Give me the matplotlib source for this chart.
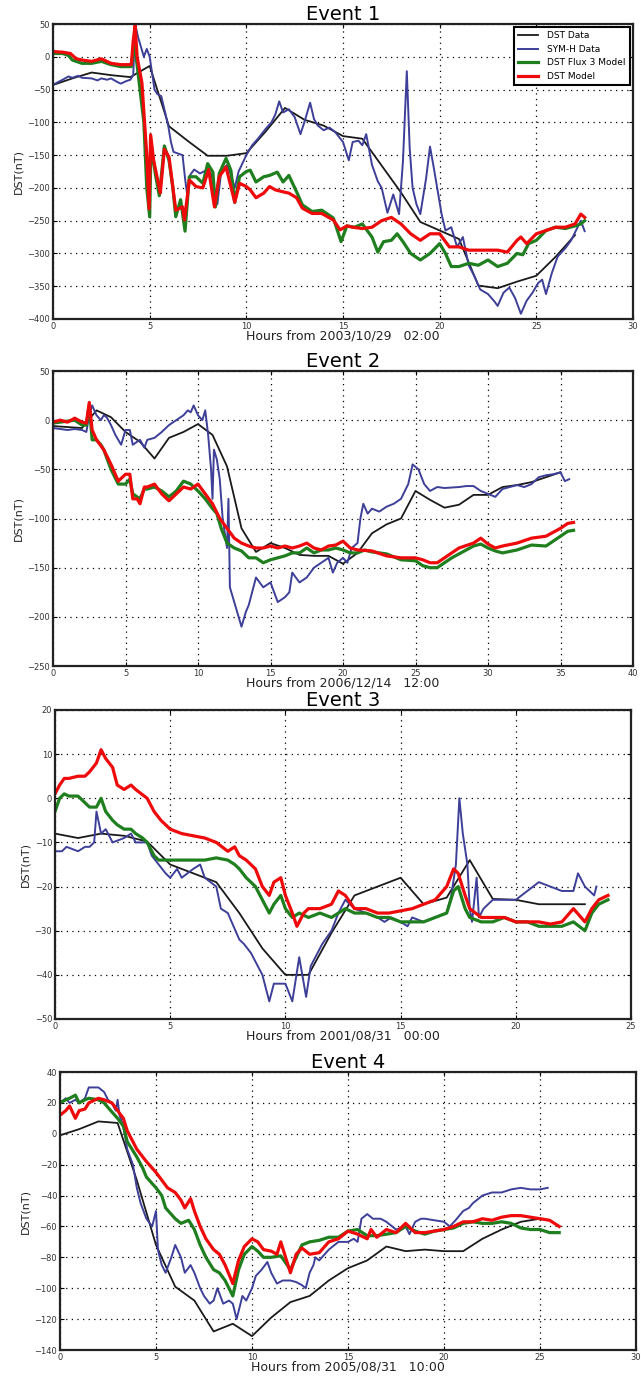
import numpy as np
import matplotlib
matplotlib.use("Agg")
import matplotlib.pyplot as plt

# ---------------- Event 1 : 2003/10/29 02:00 ----------------
e1_dst = [(0, -43), (1, -33), (2, -24), (3, -28), (4, -31), (5, -14), (6, -106), (7, -129),
          (8, -151), (9, -151), (10, -147), (11, -114), (12, -78), (13, -96), (14, -105),
          (15, -121), (16, -125), (17, -166), (18, -207), (19, -252), (20, -265), (21, -278),
          (22, -349), (23, -353), (24, -343), (25, -334), (26, -305), (27, -272)]
e1_symh = [(0, -43), (0.3, -38), (0.5, -35), (0.8, -30), (1, -32), (1.3, -29), (1.5, -32),
           (2, -33), (2.3, -36), (2.5, -33), (2.8, -35), (3, -33), (3.3, -38), (3.5, -41),
           (3.8, -37), (4, -35), (4.15, -28), (4.25, 50), (4.4, 30), (4.5, 20), (4.7, 0),
           (4.85, 12), (5.0, 0), (5.1, -20), (5.25, -50), (5.4, -57), (5.6, -60), (5.8, -85),
           (5.97, -107), (6.1, -130), (6.23, -145), (6.5, -148), (6.7, -150), (6.84, -188),
           (6.93, -208), (7.1, -180), (7.3, -172), (7.6, -178), (8.0, -172), (8.2, -180),
           (8.5, -225), (8.7, -175), (9.0, -165), (9.2, -180), (9.4, -200), (9.6, -175),
           (10.0, -150), (10.3, -135), (10.6, -125), (11.0, -110), (11.3, -100), (11.5, -88),
           (11.7, -68), (11.9, -85), (12.2, -80), (12.5, -92), (12.8, -118), (13.0, -100),
           (13.3, -70), (13.5, -95), (13.7, -105), (14.0, -112), (14.3, -108), (14.6, -115),
           (15.0, -130), (15.3, -158), (15.5, -130), (15.8, -128), (16.0, -135), (16.2, -118),
           (16.5, -165), (16.8, -190), (17.0, -200), (17.3, -238), (17.6, -210), (17.9, -240),
           (18.1, -160), (18.3, -22), (18.45, -140), (18.6, -200), (18.8, -225), (19.0, -240),
           (19.3, -185), (19.5, -137), (19.7, -170), (19.9, -205), (20.1, -240), (20.3, -265),
           (20.6, -260), (20.9, -290), (21.2, -275), (21.5, -318), (21.8, -335), (22.1, -355),
           (22.5, -362), (22.8, -372), (23.0, -380), (23.3, -360), (23.6, -352), (23.9, -368),
           (24.2, -392), (24.5, -372), (24.8, -360), (25.1, -345), (25.3, -340), (25.5, -362),
           (25.8, -330), (26.1, -305), (26.5, -292), (26.8, -280), (27.1, -262), (27.3, -250),
           (27.5, -266)]
e1_flux3 = [(0, 5), (0.5, 5), (0.8, 2), (1.0, -5), (1.5, -10), (2.0, -10), (2.5, -7), (3.0, -12),
            (3.5, -15), (4.05, -15), (4.15, 10), (4.22, 27), (4.3, 0), (4.5, -50), (4.7, -100),
            (4.85, -200), (5.0, -244), (5.07, -133), (5.3, -180), (5.5, -212), (5.76, -136),
            (6.0, -158), (6.2, -200), (6.35, -244), (6.6, -218), (6.83, -266), (7.05, -183),
            (7.4, -183), (7.75, -193), (8.0, -163), (8.27, -176), (8.4, -229), (8.6, -178),
            (8.95, -155), (9.2, -173), (9.4, -222), (9.65, -183), (10.0, -175), (10.2, -173),
            (10.5, -191), (10.9, -183), (11.2, -181), (11.6, -176), (11.9, -191), (12.2, -181),
            (12.6, -206), (12.9, -226), (13.4, -236), (13.9, -234), (14.5, -246), (14.9, -282),
            (15.2, -258), (15.6, -260), (16.0, -255), (16.5, -275), (16.8, -298), (17.1, -282),
            (17.5, -280), (17.8, -270), (18.1, -282), (18.5, -300), (19.0, -310), (19.5, -300),
            (20.0, -285), (20.3, -300), (20.6, -320), (21.0, -320), (21.5, -315), (22.0, -318),
            (22.5, -310), (23.0, -320), (23.5, -315), (24.0, -300), (24.3, -302), (24.6, -285),
            (25.0, -280), (25.5, -265), (26.0, -260), (26.5, -262), (27.0, -258), (27.3, -255),
            (27.5, -250)]
e1_model = [(0, 8), (0.5, 7), (0.9, 5), (1.2, -3), (1.5, -5), (2.0, -7), (2.5, -3), (3.0, -10),
            (3.5, -12), (4.05, -12), (4.15, 25), (4.25, 48), (4.35, 0), (4.6, -40), (4.85, -150),
            (4.97, -232), (5.05, -119), (5.2, -157), (5.55, -208), (5.76, -141), (6.0, -153),
            (6.35, -234), (6.7, -229), (6.8, -249), (7.05, -188), (7.4, -198), (7.75, -200),
            (8.05, -172), (8.35, -229), (8.6, -183), (8.95, -168), (9.4, -222), (9.65, -193),
            (10.0, -198), (10.2, -203), (10.5, -215), (10.9, -208), (11.2, -198), (11.5, -203),
            (11.9, -206), (12.2, -208), (12.6, -215), (12.9, -231), (13.4, -239), (13.9, -239),
            (14.5, -249), (14.85, -264), (15.2, -258), (15.5, -260), (16.0, -262), (16.5, -260),
            (17.0, -250), (17.5, -245), (18.0, -255), (18.5, -270), (19.0, -280), (19.5, -270),
            (20.0, -270), (20.5, -290), (21.0, -290), (21.5, -295), (22.0, -295), (22.5, -295),
            (23.0, -295), (23.5, -298), (24.0, -280), (24.2, -275), (24.5, -285), (25.0, -270),
            (25.5, -265), (26.0, -260), (26.5, -260), (27.0, -255), (27.3, -240), (27.5, -245)]

# ---------------- Event 2 : 2006/12/14 12:00 ----------------
e2_dst = [(0, -6), (1, -7), (2, -8), (3, 10), (4, 3), (5, -12), (6, -22), (7, -39), (8, -18),
          (9, -12), (10, -4), (11, -15), (12, -47), (13, -110), (14, -134), (15, -125), (16, -130),
          (17, -137), (18, -138), (19, -138), (20, -146), (21, -135), (22, -115), (23, -106),
          (24, -100), (25, -72), (26, -81), (27, -89), (28, -86), (29, -76), (30, -76), (31, -68),
          (32, -66), (33, -63), (34, -58), (35, -53)]
e2_symh = [(0, -8), (0.5, -9), (1, -10), (1.5, -9), (2, -10), (2.3, -12), (2.5, 5), (2.7, 15),
           (3.0, 5), (3.3, 0), (3.5, 5), (3.7, 3), (4.0, -5), (4.3, -15), (4.5, -20), (4.7, -25),
           (5.0, -10), (5.3, -10), (5.5, -25), (6.0, -20), (6.3, -28), (6.5, -20), (7.0, -18),
           (7.5, -12), (8.0, -5), (8.5, 0), (9.0, 5), (9.3, 10), (9.5, 8), (9.7, 15), (10.0, 5),
           (10.3, 0), (10.5, 10), (10.7, -15), (10.9, -50), (11.0, -80), (11.1, -30),
           (11.3, -40), (11.5, -60), (11.7, -100), (12.0, -130), (12.1, -80), (12.2, -170),
           (12.5, -185), (12.8, -200), (13.0, -210), (13.3, -195), (13.5, -188), (14.0, -160),
           (14.5, -170), (15.0, -165), (15.5, -185), (16.0, -180), (16.3, -175), (16.5, -155),
           (17.0, -165), (17.5, -160), (18.0, -150), (18.5, -145), (19.0, -140), (19.3, -155),
           (19.6, -145), (20.0, -140), (20.3, -145), (20.6, -130), (21.0, -125), (21.2, -100),
           (21.4, -85), (21.7, -95), (22.0, -90), (22.5, -93), (23.0, -88), (23.5, -85),
           (24.0, -80), (24.5, -65), (24.8, -45), (25.2, -50), (25.6, -65), (26.0, -72),
           (26.5, -68), (27.0, -69), (28.0, -68), (28.5, -67), (29.0, -67), (29.5, -72),
           (30.0, -75), (30.5, -78), (31.0, -70), (31.5, -68), (32.0, -66), (32.5, -68),
           (33.0, -65), (33.5, -58), (34.0, -56), (34.5, -55), (35.0, -53), (35.3, -62),
           (35.6, -60)]
e2_flux3 = [(0, -3), (0.5, -2), (1, -1), (1.5, 0), (2, -5), (2.3, -5), (2.5, 15), (2.7, -20),
            (3.0, -20), (3.3, -25), (3.5, -30), (4.0, -50), (4.5, -65), (5.0, -65), (5.3, -60),
            (5.5, -75), (6.0, -80), (6.3, -70), (6.5, -70), (7.0, -68), (7.5, -72), (8.0, -78),
            (8.5, -72), (9.0, -62), (9.5, -65), (10.0, -72), (10.5, -80), (11.0, -90),
            (11.3, -95), (11.6, -110), (12.0, -125), (12.5, -130), (13.0, -133), (13.5, -140),
            (14.0, -140), (14.5, -145), (15.0, -142), (15.5, -140), (16.0, -138), (16.5, -135),
            (17.0, -135), (17.5, -130), (18.0, -135), (18.5, -132), (19.0, -132), (19.5, -130),
            (20.0, -132), (20.5, -135), (21.0, -135), (21.5, -132), (22.0, -134), (23.0, -136),
            (24.0, -142), (25.0, -143), (25.5, -148), (26.0, -150), (26.5, -150), (27.0, -145),
            (27.5, -140), (28.0, -136), (29.0, -128), (29.5, -126), (30.0, -130), (30.5, -133),
            (31.0, -135), (32.0, -132), (33.0, -127), (34.0, -128), (34.5, -123), (35.0, -118),
            (35.5, -113), (35.9, -112)]
e2_model = [(0, -2), (0.5, 0), (1, -2), (1.5, 2), (2, -2), (2.3, -3), (2.5, 18), (2.7, -10),
            (3.0, -20), (3.5, -30), (4.0, -45), (4.5, -62), (5.0, -55), (5.3, -55), (5.5, -80),
            (5.8, -80), (6.0, -85), (6.3, -68), (6.5, -68), (7.0, -65), (7.5, -75), (8.0, -82),
            (8.5, -75), (9.0, -68), (9.5, -70), (10.0, -65), (10.5, -75), (11.0, -85),
            (11.5, -100), (12.0, -110), (12.5, -120), (13.0, -125), (13.5, -128), (14.0, -130),
            (14.5, -130), (15.0, -128), (15.5, -130), (16.0, -128), (16.5, -130), (17.0, -128),
            (17.5, -125), (18.0, -130), (18.5, -132), (19.0, -128), (19.5, -127), (20.0, -123),
            (20.5, -130), (21.0, -132), (22.0, -133), (23.0, -138), (24.0, -140), (25.0, -140),
            (25.5, -142), (26.0, -145), (26.5, -145), (27.0, -140), (28.0, -130), (29.0, -125),
            (29.5, -120), (30.0, -126), (30.5, -130), (31.0, -128), (32.0, -125), (33.0, -120),
            (34.0, -118), (35.0, -110), (35.5, -105), (35.9, -104)]

# ---------------- Event 3 : 2001/08/31 00:00 ----------------
e3_dst = [(0, -8), (1, -9), (2, -8), (3, -8.5), (4, -9.8), (5, -15), (6, -17), (7, -19), (8, -26),
          (9, -34), (10, -40), (11, -40), (12, -30.5), (13, -22), (14, -20), (15, -18), (16, -24),
          (17, -22.5), (18, -14), (19, -22.8), (20, -23), (21, -24), (22, -24), (23, -24)]
e3_symh = [(0, -12), (0.3, -12), (0.5, -11), (1, -12), (1.3, -11), (1.5, -11), (1.7, -10),
           (1.8, -3), (2.0, -8), (2.2, -7), (2.5, -10), (3.0, -9), (3.3, -8), (3.5, -10),
           (4.0, -10), (4.2, -13), (4.5, -15), (4.8, -17), (5.0, -18), (5.3, -16), (5.5, -18),
           (6.0, -16), (6.3, -15), (6.5, -18), (7.0, -20), (7.2, -25), (7.5, -26), (8.0, -32),
           (8.2, -33), (8.5, -35), (9.0, -40), (9.3, -46), (9.5, -42), (10.0, -42), (10.3, -46),
           (10.6, -36), (10.9, -45), (11.1, -38), (11.3, -36), (11.6, -33), (12.0, -30),
           (12.3, -26), (12.6, -23), (13.0, -25), (13.5, -26), (14.0, -27), (14.3, -28),
           (14.6, -27), (15.0, -28), (15.3, -29), (15.5, -27), (16.0, -28), (16.5, -27),
           (17.0, -26), (17.2, -22), (17.4, -15), (17.55, 0), (17.7, -8), (17.9, -15),
           (18.0, -25), (18.1, -28), (18.3, -18), (18.4, -27), (18.6, -25), (19.0, -23),
           (19.5, -23), (20.0, -23), (20.5, -21), (21.0, -19), (21.5, -20), (22.0, -21),
           (22.5, -21), (22.7, -17), (23.0, -20), (23.4, -22), (23.5, -20)]
e3_flux3 = [(0, -3), (0.2, 0), (0.4, 1), (0.6, 0.5), (1.0, 0.5), (1.3, -1), (1.5, -2), (1.8, -2),
            (2.0, 0), (2.2, -3), (2.5, -5), (2.7, -6), (3.0, -7), (3.3, -7), (3.5, -8), (3.8, -9),
            (4.0, -10), (4.3, -13), (4.5, -14), (5.0, -14), (5.5, -14), (6.0, -14), (6.5, -14),
            (7.0, -13.5), (7.5, -14), (7.8, -15), (8.0, -16), (8.3, -18), (8.7, -20), (9.0, -23),
            (9.3, -26), (9.5, -24), (9.8, -22), (10.0, -25), (10.3, -27), (10.6, -26),
            (11.0, -27), (11.5, -26), (12.0, -27), (12.3, -26), (12.6, -25), (13.0, -26),
            (13.5, -26), (14.0, -27), (14.5, -27), (15.0, -28), (15.5, -28), (16.0, -28),
            (16.5, -27), (17.0, -26), (17.3, -21), (17.5, -20), (17.8, -25), (18.0, -27),
            (18.5, -28), (19.0, -28), (19.5, -27), (20.0, -28), (20.5, -28), (21.0, -29),
            (21.5, -29), (22.0, -29), (22.5, -28), (23.0, -30), (23.3, -26), (23.6, -24),
            (24.0, -23)]
e3_model = [(0, 1), (0.2, 3), (0.4, 4.5), (0.6, 4.5), (1.0, 5), (1.3, 5), (1.5, 6), (1.8, 8),
            (2.0, 11), (2.2, 9), (2.5, 7), (2.7, 3), (3.0, 2), (3.3, 3), (3.5, 2), (4.0, 0),
            (4.3, -3), (4.6, -5), (5.0, -7), (5.5, -8), (6.0, -8.5), (6.5, -9), (7.0, -10),
            (7.5, -12), (7.8, -11), (8.0, -13), (8.3, -14), (8.7, -16), (9.0, -20), (9.3, -22),
            (9.5, -19), (9.8, -18), (10.0, -22), (10.3, -26), (10.5, -29), (10.8, -26),
            (11.0, -25), (11.5, -25), (12.0, -24), (12.3, -21), (12.6, -22), (13.0, -25),
            (13.5, -25), (14.0, -26), (14.5, -26), (15.0, -25.5), (15.5, -25), (16.0, -24),
            (16.5, -23), (17.0, -20), (17.3, -16), (17.5, -17), (17.8, -22), (18.0, -25),
            (18.5, -27), (19.0, -27), (19.5, -27), (20.0, -28), (20.5, -28), (21.0, -28),
            (21.5, -28.5), (22.0, -28), (22.5, -25), (23.0, -28), (23.3, -25), (23.6, -23),
            (24.0, -22)]

# ---------------- Event 4 : 2005/08/31 10:00 ----------------
e4_dst = [(0, -1), (1, 3), (2, 8), (3, 7), (4, -30), (5, -72), (6, -99), (7, -108), (8, -128),
          (9, -123), (10, -131), (11, -119), (12, -109), (13, -105), (14, -95), (15, -87),
          (16, -82), (17, -73), (18, -76), (19, -75), (20, -76), (21, -76), (22, -68), (23, -62),
          (24, -57), (25, -55)]
e4_symh = [(0, 20), (0.3, 23), (0.5, 20), (0.8, 22), (1.0, 20), (1.3, 23), (1.5, 30), (2.0, 30),
           (2.3, 27), (2.5, 22), (2.7, 20), (2.9, 15), (3.0, 22), (3.1, 12), (3.3, 5), (3.5, -10),
           (3.8, -20), (4.0, -35), (4.2, -45), (4.5, -55), (4.8, -60), (5.0, -50), (5.1, -75),
           (5.3, -85), (5.5, -90), (5.8, -80), (6.0, -72), (6.3, -80), (6.5, -90), (6.8, -85),
           (7.0, -90), (7.3, -100), (7.5, -105), (7.8, -110), (8.0, -108), (8.2, -100),
           (8.5, -110), (8.8, -108), (9.0, -110), (9.2, -120), (9.5, -105), (9.7, -108),
           (10.0, -100), (10.2, -92), (10.5, -88), (10.8, -83), (11.0, -90), (11.3, -97),
           (11.6, -95), (12.0, -95), (12.3, -96), (12.6, -98), (12.8, -100), (13.0, -90),
           (13.2, -85), (13.3, -80), (13.5, -82), (14.0, -75), (14.3, -72), (14.5, -70),
           (15.0, -70), (15.3, -68), (15.5, -70), (15.7, -55), (16.0, -52), (16.3, -55),
           (16.7, -55), (17.0, -57), (17.3, -60), (17.5, -62), (18.0, -60), (18.2, -65),
           (18.5, -57), (18.8, -55), (19.0, -55), (19.5, -56), (20.0, -57), (20.3, -60),
           (20.6, -56), (21.0, -50), (21.3, -48), (21.5, -45), (22.0, -40), (22.5, -38),
           (23.0, -38), (23.5, -36), (24.0, -35), (24.5, -36), (25.0, -36), (25.4, -35)]
e4_flux3 = [(0, 20), (0.3, 22), (0.5, 23), (0.8, 25), (1.0, 20), (1.3, 22), (1.5, 23), (2.0, 22),
            (2.3, 20), (2.5, 17), (3.0, 10), (3.3, 5), (3.5, -5), (4.0, -15), (4.3, -22),
            (4.5, -28), (5.0, -35), (5.3, -40), (5.5, -48), (6.0, -55), (6.3, -58), (6.7, -56),
            (7.0, -62), (7.3, -72), (7.6, -80), (8.0, -88), (8.3, -90), (8.6, -95), (9.0, -105),
            (9.3, -88), (9.6, -78), (10.0, -73), (10.3, -76), (10.6, -80), (11.0, -80),
            (11.5, -79), (12.0, -88), (12.3, -80), (12.6, -72), (13.0, -70), (13.5, -69),
            (14.0, -67), (14.5, -67), (15.0, -63), (15.5, -62), (16.0, -66), (16.5, -66),
            (17.0, -65), (17.5, -64), (18.0, -60), (18.5, -63), (19.0, -65), (19.5, -63),
            (20.0, -62), (20.5, -61), (21.0, -58), (21.5, -57), (22.0, -58), (22.5, -58),
            (23.0, -57), (23.5, -58), (24.0, -61), (24.5, -62), (25.0, -62), (25.5, -64),
            (26.0, -64)]
e4_model = [(0, 12), (0.3, 15), (0.5, 18), (0.8, 10), (1.0, 15), (1.3, 16), (1.5, 20), (2.0, 23),
            (2.3, 22), (2.7, 20), (3.0, 15), (3.3, 10), (3.5, 2), (4.0, -10), (4.5, -18),
            (5.0, -25), (5.3, -30), (5.6, -35), (6.0, -38), (6.3, -43), (6.5, -48), (6.8, -42),
            (7.0, -50), (7.3, -60), (7.6, -68), (8.0, -75), (8.3, -78), (8.6, -85), (9.0, -97),
            (9.3, -82), (9.6, -73), (10.0, -68), (10.3, -70), (10.6, -75), (11.0, -76),
            (11.3, -78), (11.5, -70), (12.0, -90), (12.3, -78), (12.6, -74), (13.0, -78),
            (13.5, -77), (14.0, -70), (14.5, -68), (15.0, -63), (15.5, -65), (16.0, -68),
            (16.2, -62), (16.5, -67), (17.0, -62), (17.5, -64), (18.0, -58), (18.5, -64),
            (19.0, -64), (19.5, -63), (20.0, -62), (20.5, -60), (21.0, -57), (21.5, -57),
            (22.0, -55), (22.5, -56), (23.0, -54), (23.5, -53), (24.0, -53), (24.5, -54),
            (25.0, -55), (25.5, -56), (26.0, -60)]

titles = ["Event 1", "Event 2", "Event 3", "Event 4"]
xlabels = ["Hours from 2003/10/29   02:00", "Hours from 2006/12/14   12:00",
           "Hours from 2001/08/31   00:00", "Hours from 2005/08/31   10:00"]
xlims = [(0, 30), (0, 40), (0, 25), (0, 30)]
ylims = [(-400, 50), (-250, 50), (-50, 20), (-140, 40)]
ysteps = [50, 50, 10, 20]
series_names = ["DST Data", "SYM-H Data", "DST Flux 3 Model", "DST Model"]
events = [
    (e1_dst, e1_symh, e1_flux3, e1_model),
    (e2_dst, e2_symh, e2_flux3, e2_model),
    (e3_dst, e3_symh, e3_flux3, e3_model),
    (e4_dst, e4_symh, e4_flux3, e4_model),
]

colors = ["#1a1a1a", "#3d3f98", "#1f7f1f", "#ee0a0a"]
widths = [1.3, 1.4, 2.3, 2.3]

W, H = 641, 1377
# axes rectangles in pixels: left, top, right, bottom
boxes = [(53, 24, 633, 319), (53, 371, 633, 666), (55, 710, 631, 1019), (60, 1072, 636, 1350)]

fig = plt.figure(figsize=(W / 100, H / 100), dpi=100)

for i, (ev, box) in enumerate(zip(events, boxes)):
    l, t, r, b = box
    ax = fig.add_axes([l / W, 1 - b / H, (r - l) / W, (b - t) / H])
    for j, (ser, name) in enumerate(zip(ev, series_names)):
        h = [p[0] for p in ser]
        v = [p[1] for p in ser]
        ax.plot(h, v, color=colors[j], lw=widths[j], label=name, zorder=2 + j * 0.1,
                solid_joinstyle="round")
    ax.set_xlim(*xlims[i])
    ax.set_ylim(*ylims[i])
    ax.set_xticks(np.arange(xlims[i][0], xlims[i][1] + 0.1, 5))
    ax.set_yticks(np.arange(ylims[i][0], ylims[i][1] + 0.1, ysteps[i]))
    ax.grid(True, color="black", linestyle=(0, (1, 3.5)), linewidth=0.9)
    ax.tick_params(direction="in", top=True, right=True, labelsize=6, pad=2,
                   length=3, width=0.8, colors="black", labelcolor="#333333")
    for s in ax.spines.values():
        s.set_linewidth(1.6)
        s.set_color("#222222")
    ax.set_title(titles[i], fontsize=14, pad=3)
    ax.set_xlabel(xlabels[i], fontsize=9, labelpad=-1, color="#222222")
    ax.set_ylabel("DST(nT)", fontsize=8, labelpad=3, color="#222222")
    if i == 0:
        leg = ax.legend(loc="upper right", fontsize=6.5, fancybox=False, framealpha=1,
                        edgecolor="black", borderaxespad=0.3, handlelength=2.2,
                        handletextpad=1.0, borderpad=0.5, labelspacing=0.5)
        leg.get_frame().set_linewidth(1.5)

fig.savefig("out.png", dpi=100)
